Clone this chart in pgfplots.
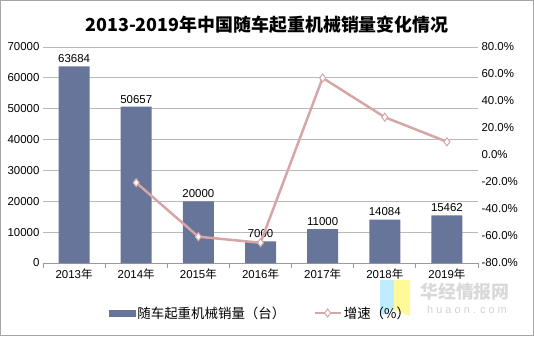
\documentclass[border=0pt]{standalone}
\usepackage{fontspec}
\setmainfont{Liberation Sans}
\newfontfamily\cjk{Noto Sans CJK SC}
\usepackage{pgfplots}
\pgfplotsset{compat=1.18}
\definecolor{barc}{HTML}{68759A}
\definecolor{linec}{HTML}{D6A6A6}
\begin{document}
\begin{tikzpicture}[x=1bp,y=1bp]
\path[use as bounding box] (0,0) rectangle (534,336);
\draw[gray!70, line width=1.2bp] (0.6,0.6) rectangle (533.4,335.4);
\node[font=\cjk\bfseries\fontsize{18}{20}\selectfont] at (267,311) {2013-2019年中国随车起重机械销量变化情况};
\fill[blue!30!cyan!25] (380,20) -- (380,56) -- (394,56) -- (394,26) -- cycle;
\fill[yellow!40] (394,26) -- (394,56) -- (410,56) -- (410,20) -- cycle;
\node[font=\cjk\bfseries\fontsize{18}{20}\selectfont, text=gray!30] at (465,44) {华经情报网};
\node[font=\fontsize{11}{12}\selectfont, text=gray!35] at (467,26) {h u a o n . c o m};
\begin{axis}[
  at={(43bp,73bp)}, anchor=south west, scale only axis,
  width=435bp, height=216bp,
  xmin=-0.5, xmax=6.5, ymin=0, ymax=70000,
  ytick={0,10000,...,70000},
  ymajorgrids, grid style={gray!55, line width=0.8bp},
  axis x line*=bottom, axis y line*=left,
  y axis line style={draw=none},
  x axis line style={gray!80, line width=0.8bp},
  xtick={0,...,6},
  xticklabels={2013{\cjk 年},2014{\cjk 年},2015{\cjk 年},2016{\cjk 年},2017{\cjk 年},2018{\cjk 年},2019{\cjk 年}},
  minor xtick={-0.5,0.5,...,6.5},
  major tick length=0pt, minor tick length=5bp, tick align=outside,
  minor tick style={gray!80, line width=0.8bp},
  tick label style={font=\fontsize{11.5}{12}\selectfont},
  /pgf/number format/assume math mode=true,
  yticklabel style={/pgf/number format/1000 sep={}},
  scaled y ticks=false,
  xticklabel style={yshift=-2bp},
  ybar, bar width=31bp,
  nodes near coords,
  every node near coord/.append style={font=\fontsize{11.5}{12}\selectfont, /pgf/number format/1000 sep={}, /pgf/number format/assume math mode=true},
]
\addplot[fill=barc, draw=none] coordinates {(0,63684) (1,50657) (2,20000) (3,7000) (4,11000) (5,14084) (6,15462)};
\end{axis}
\begin{axis}[
  at={(43bp,73bp)}, anchor=south west, scale only axis,
  width=435bp, height=216bp,
  xmin=-0.5, xmax=6.5, ymin=-80, ymax=80,
  ytick={-80,-60,...,80},
  axis x line=none, axis y line*=right,
  y axis line style={draw=none},
  major tick length=0pt,
  tick label style={font=\fontsize{11.5}{12}\selectfont},
  /pgf/number format/assume math mode=true,
  yticklabel={\pgfmathprintnumber[fixed,fixed zerofill,precision=1]{\tick}\%},
  legend style={at={(0.5,-50bp)}, anchor=center, draw=none, fill=none,
    legend columns=2, font=\cjk\fontsize{13.5}{14}\selectfont,
    /tikz/every even column/.append style={column sep=26bp}},
]
\addlegendimage{legend image code/.code={\fill[barc] (0,-3bp) rectangle (26bp,3bp);}}
\addlegendentry{随车起重机械销量（台）}
\addplot[linec, line width=2.5bp, mark=diamond*, mark size=4bp, mark options={fill=white, draw=linec, line width=1bp},
  legend image code/.code={\draw[linec, line width=2.5bp] (0,0) -- (26bp,0); \draw[linec, line width=1bp, fill=white] (13bp,0) +(-3bp,0) -- +(0,4bp) -- +(3bp,0) -- +(0,-4bp) -- cycle;}]
  coordinates {(1,-20.5) (2,-60.5) (3,-65.0) (4,57.1) (5,28.0) (6,9.8)};
\addlegendentry{增速（\%）}
\end{axis}
\end{tikzpicture}
\end{document}
